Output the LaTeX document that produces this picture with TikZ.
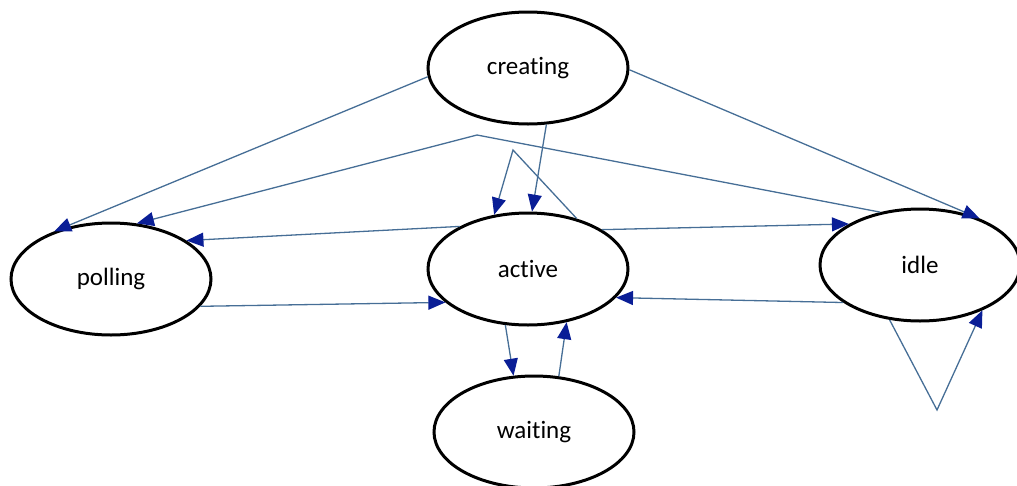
\documentclass[tikz,border=0pt]{standalone}
\usepackage{fontspec}
\setmainfont[Ligatures=NoCommon]{Carlito}
\usetikzlibrary{shapes.geometric, arrows.meta}
\definecolor{linkblue}{RGB}{70,110,150}
\definecolor{tipblue}{RGB}{10,30,150}

\begin{document}
\begin{tikzpicture}[x=1pt, y=-1pt,
    state/.style={draw, ellipse, line width=3pt, minimum width=200pt, minimum height=112pt, inner sep=0pt, font=\fontsize{25}{30}\selectfont},
    link/.style={draw=linkblue, line width=1.3pt, -{Triangle[length=17pt, width=14pt, color=tipblue, fill=tipblue]}}]
    \useasboundingbox (0,0) rectangle (1017,485);

    \foreach \name/\x/\y in {creating/528/68, active/528/269, polling/111/279, idle/920/265, waiting/534/432} {\node[state] (\name) at (\x,\y) {\name};}

    \coordinate (bend) at (477,135);
    \coordinate (loopA) at (513,150);
    \coordinate (loopI) at (937,410);

    \draw[link] (creating.185) -- (polling.140);
    \draw[link] (creating.-1) -- (idle.38);
    \draw[link] (creating.-72) -- (active.86);
    \draw[link] (idle.127) -- (bend) -- (polling.65);
    \draw[link] (active.46) -- (loopA) -- (active.122);
    \draw[link] (active.28) -- (idle.150);
    \draw[link] (active.148) -- (polling.27);
    \draw[link] (polling.-17) -- (active.202);
    \draw[link] (idle.206) -- (active.-18);
    \draw[link] (idle.241) -- (loopI) -- (idle.-36);
    \draw[link] (active.248) -- (waiting.110);
    \draw[link] (waiting.66) -- (active.-54);
\end{tikzpicture}
\end{document}
